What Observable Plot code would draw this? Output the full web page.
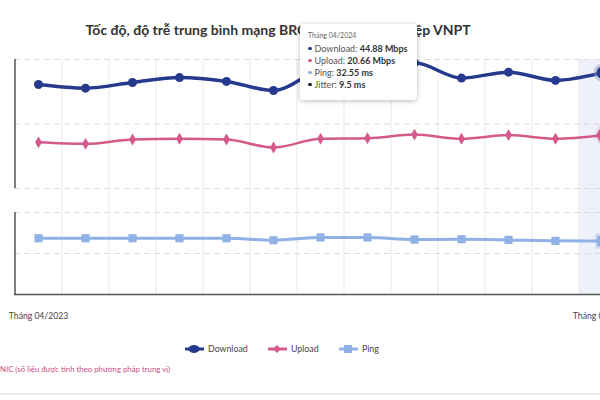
<!DOCTYPE html>
<html><head><meta charset="utf-8">
<script src="https://cdn.jsdelivr.net/npm/d3@7"></script>
<script src="https://cdn.jsdelivr.net/npm/@observablehq/plot@0.6"></script>
<style>
html,body{margin:0;padding:0;width:600px;height:400px;overflow:hidden;background:#fff;font-family:Lato,"Noto Sans",sans-serif;}
#root{position:relative;width:600px;height:400px;overflow:hidden;}
.abs{position:absolute;}
#title{left:0;width:556px;top:22px;text-align:center;font-weight:700;font-size:14px;line-height:16px;color:#333;white-space:nowrap;}
#tip{left:300px;top:24px;width:117px;height:76px;background:#fff;border-radius:4px;box-shadow:0 1px 5px rgba(0,0,0,0.28);box-sizing:border-box;padding:6px 0 0 8px;color:#555;white-space:nowrap;}
#tip .hd{font-size:7px;color:#666;line-height:10px;margin-bottom:3px;}
#tip .row{font-size:9px;line-height:12px;}
#tip .row b{color:#333;}
#tip .bl{display:inline-block;width:3.5px;height:3.5px;border-radius:50%;margin-right:3px;vertical-align:middle;position:relative;top:-1px;}
.leg{font-size:8.8px;color:#444;line-height:12px;white-space:nowrap;display:flex;align-items:center;}
.leg svg{margin-right:4px;}
#note{left:0;top:364px;font-size:7.8px;color:#cf4b84;white-space:nowrap;}
#sep{left:0;top:393px;width:600px;height:2px;background:#ececec;}
</style></head>
<body><div id="root">
<div id="title" class="abs"></div>
<div id="top" class="abs" style="left:0;top:54px;"></div>
<div id="bottom" class="abs" style="left:0;top:200px;"></div>
<div id="legend"></div>
<div id="note" class="abs"></div>
<div id="sep" class="abs"></div>
<div id="tip" class="abs"></div>
</div>
<script>
const titleText = "Tốc độ, độ trễ trung bình mạng BRCĐ của doanh nghiệp VNPT";
const noteText = "NIC (số liệu được tính theo phương pháp trung vị)";
const months = ["Tháng 04/2023","Tháng 05/2023","Tháng 06/2023","Tháng 07/2023","Tháng 08/2023","Tháng 09/2023","Tháng 10/2023","Tháng 11/2023","Tháng 12/2023","Tháng 01/2024","Tháng 02/2024","Tháng 03/2024","Tháng 04/2024"];
const download = [40.3, 38.9, 41.1, 43.0, 41.5, 38.0, 45.8, 47.5, 48.7, 42.8, 45.1, 41.9, 44.88];
const upload   = [17.9, 17.3, 19.0, 19.3, 19.0, 15.9, 19.3, 19.5, 20.9, 19.3, 20.7, 19.3, 20.66];
const ping     = [34.3, 34.3, 34.3, 34.3, 34.3, 33.1, 34.8, 34.8, 33.5, 33.7, 33.3, 32.7, 32.55];
const jitterLast = 9.5;
const yTicks = [0, 25, 50];
const seriesNames = ["Download", "Upload", "Ping"];
const colors = {Download: "#263a8d", Upload: "#d5598b", Ping: "#8fb1e5", Jitter: "#222"};

const rows = months.map((m, i) => ({month: m, download: download[i], upload: upload[i], ping: ping[i]}));
const last = rows[rows.length - 1];
const head = rows.slice(0, -1);

const W = 640, mL = 14, mR = 15;
const step = (W - mL - mR) / months.length;
const xOpt = {type: "point", domain: months, padding: 0.5, axis: null, label: null};
const style = {background: "transparent", maxWidth: "none", overflow: "visible", fontFamily: "Lato, 'Noto Sans', sans-serif"};
const gridColor = "#e9e9e9", dashColor = "#dcdcdc", axisColor = "#555";

document.getElementById("title").textContent = titleText;
document.getElementById("note").textContent = noteText;

const topPlot = Plot.plot({
  width: W, height: 146, marginTop: 5, marginBottom: 12, marginLeft: mL, marginRight: mR,
  x: xOpt, y: {domain: [0, 50], axis: null}, style,
  marks: [
    Plot.ruleX([last.month], {stroke: "#eef0fa", strokeWidth: step, insetBottom: -12}),
    Plot.ruleX(months, {dx: step / 2, stroke: gridColor, insetBottom: -12}),
    Plot.ruleY(yTicks, {stroke: dashColor, strokeDasharray: "6,4"}),
    Plot.ruleX([months[0]], {dx: -step / 2, stroke: axisColor, strokeWidth: 1.5}),
    Plot.line(rows, {x: "month", y: "upload", stroke: colors.Upload, strokeWidth: 2.5, curve: "monotone-x"}),
    Plot.dot(head, {x: "month", y: "upload", symbol: "diamond", r: 3.6, fill: colors.Upload}),
    Plot.dot([last], {x: "month", y: "upload", symbol: "diamond", r: 9, fill: colors.Upload, fillOpacity: 0.2}),
    Plot.dot([last], {x: "month", y: "upload", symbol: "diamond", r: 6.5, fill: colors.Upload}),
    Plot.line(rows, {x: "month", y: "download", stroke: colors.Download, strokeWidth: 3.5, curve: "monotone-x"}),
    Plot.dot(head, {x: "month", y: "download", r: 4.5, fill: colors.Download}),
    Plot.dot([last], {x: "month", y: "download", r: 9, fill: "#8c96c6", fillOpacity: 0.45}),
    Plot.dot([last], {x: "month", y: "download", r: 6, fill: colors.Download})
  ]
});
document.getElementById("top").append(topPlot);

const bottomPlot = Plot.plot({
  width: W, height: 124, marginTop: 12, marginBottom: 30, marginLeft: mL, marginRight: mR,
  x: xOpt, y: {domain: [0, 50], axis: null}, style,
  marks: [
    Plot.ruleX([last.month], {stroke: "#eef0fa", strokeWidth: step, insetTop: -12}),
    Plot.ruleX(months, {dx: step / 2, stroke: gridColor, insetTop: -12}),
    Plot.ruleY(yTicks.slice(1), {stroke: dashColor, strokeDasharray: "6,4"}),
    Plot.ruleY([0], {stroke: axisColor, strokeWidth: 1.5}),
    Plot.ruleX([months[0]], {dx: -step / 2, stroke: axisColor, strokeWidth: 1.5}),
    Plot.line(rows, {x: "month", y: "ping", stroke: colors.Ping, strokeWidth: 3, curve: "monotone-x"}),
    Plot.dot(head, {x: "month", y: "ping", symbol: "square", r: 4.6, fill: colors.Ping}),
    Plot.dot([last], {x: "month", y: "ping", symbol: "square", r: 8.5, fill: colors.Ping, fillOpacity: 0.3}),
    Plot.dot([last], {x: "month", y: "ping", symbol: "square", r: 6, fill: colors.Ping}),
    Plot.axisX([months[0], last.month], {tickSize: 0, tickPadding: 18, fontSize: 8.6, fill: "#444", label: null})
  ]
});
document.getElementById("bottom").append(bottomPlot);

// legend
const legPos = {Download: 185, Upload: 268, Ping: 339};
const legend = document.getElementById("legend");
for (const s of seriesNames) {
  const d = document.createElement("div");
  d.className = "leg abs";
  d.style.left = legPos[s] + "px";
  d.style.top = "343px";
  const c = colors[s];
  let shape;
  if (s === "Download") shape = `<ellipse cx="9" cy="6" rx="5.5" ry="4" fill="${c}"/>`;
  else if (s === "Upload") shape = `<path d="M9 2 L13 6 L9 10 L5 6 Z" fill="${c}"/>`;
  else shape = `<rect x="5" y="2" width="8" height="8" fill="${c}"/>`;
  d.innerHTML = `<svg width="19" height="12"><line x1="0" x2="19" y1="6" y2="6" stroke="${c}" stroke-width="3"/>${shape}</svg><span>${s}</span>`;
  legend.append(d);
}

// tooltip
const tip = document.getElementById("tip");
const fmt = v => String(v);
tip.innerHTML = `<div class="hd">${last.month}</div>` +
  `<div class="row"><span class="bl" style="background:${colors.Download}"></span>Download: <b>${fmt(last.download)} Mbps</b></div>` +
  `<div class="row"><span class="bl" style="background:${colors.Upload}"></span>Upload: <b>${fmt(last.upload)} Mbps</b></div>` +
  `<div class="row"><span class="bl" style="background:${colors.Ping}"></span>Ping: <b>${fmt(last.ping)} ms</b></div>` +
  `<div class="row"><span class="bl" style="background:${colors.Jitter}"></span>Jitter: <b>${fmt(jitterLast)} ms</b></div>`;
</script>
</body></html>
